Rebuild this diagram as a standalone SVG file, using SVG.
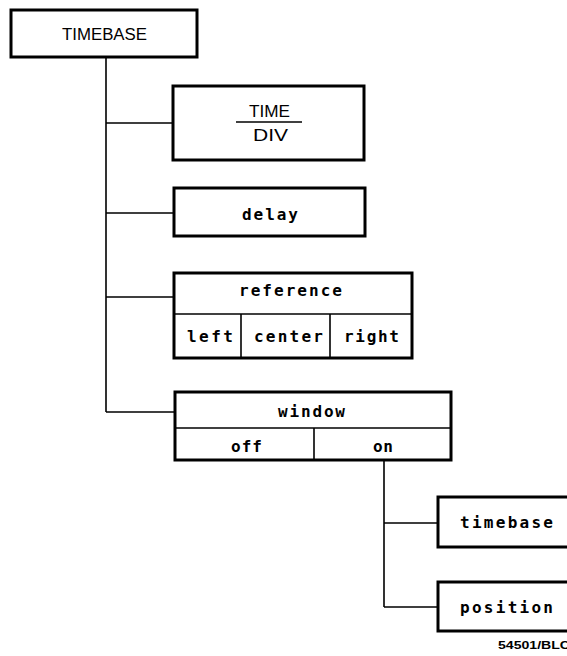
<svg xmlns="http://www.w3.org/2000/svg" width="567" height="656" viewBox="0 0 567 656">
<style>
.box{fill:#fff;stroke:#000;stroke-width:3}
.div{stroke:#000;stroke-width:1.6;fill:none}
.con{stroke:#000;stroke-width:1.6;fill:none}
.up{font-family:"Liberation Sans",Arial,sans-serif;font-size:16px;fill:#000}
.lo{font-family:"DejaVu Sans Mono","Liberation Mono",monospace;font-size:16px;font-weight:bold;fill:#000}
.tag{font-family:"Liberation Sans",Arial,sans-serif;font-size:10px;font-weight:bold;fill:#000}
</style>
<rect width="567" height="656" fill="#fff"/>
<g id="connectors">
<path class="con" d="M106,57 V412 M106,123 H173 M106,213 H174 M106,297 H174 M106,412 H175"/>
<path class="con" d="M384,460 V607 M384,523 H438 M384,607 H438"/>
</g>
<g id="timebase-root">
<rect class="box" x="11" y="10" width="186" height="47"/>
<text class="up" x="62" y="40" textLength="85" lengthAdjust="spacingAndGlyphs">TIMEBASE</text>
</g>
<g id="timediv">
<rect class="box" x="173" y="86" width="191" height="74"/>
<text class="up" x="249" y="117" textLength="41" lengthAdjust="spacingAndGlyphs">TIME</text>
<line class="div" x1="236" y1="122" x2="302" y2="122" stroke-width="1.2"/>
<text class="up" x="253" y="141" textLength="35" lengthAdjust="spacingAndGlyphs">DIV</text>
</g>
<g id="delay">
<rect class="box" x="174" y="188" width="191" height="48"/>
<text class="lo" x="242" y="220" textLength="56" lengthAdjust="spacing">delay</text>
</g>
<g id="reference">
<rect class="box" x="174" y="273" width="238" height="85"/>
<line class="div" x1="174" y1="314" x2="412" y2="314"/>
<line class="div" x1="241" y1="314" x2="241" y2="358"/>
<line class="div" x1="330" y1="314" x2="330" y2="358"/>
<text class="lo" x="239" y="296" textLength="103" lengthAdjust="spacing">reference</text>
<text class="lo" x="187" y="342" textLength="46" lengthAdjust="spacing">left</text>
<text class="lo" x="254" y="342" textLength="69" lengthAdjust="spacing">center</text>
<text class="lo" x="344" y="342" textLength="55" lengthAdjust="spacing">right</text>
</g>
<g id="window">
<rect class="box" x="175" y="392" width="276" height="68"/>
<line class="div" x1="175" y1="428" x2="451" y2="428"/>
<line class="div" x1="314" y1="428" x2="314" y2="460"/>
<text class="lo" x="278" y="417" textLength="67" lengthAdjust="spacing">window</text>
<text class="lo" x="231" y="452" textLength="31" lengthAdjust="spacing">off</text>
<text class="lo" x="373" y="452" textLength="20" lengthAdjust="spacing">on</text>
</g>
<g id="timebase">
<rect class="box" x="438" y="497" width="140" height="50"/>
<text class="lo" x="460" y="528" textLength="93" lengthAdjust="spacing">timebase</text>
</g>
<g id="position">
<rect class="box" x="438" y="582" width="140" height="49"/>
<text class="lo" x="460" y="613" textLength="93" lengthAdjust="spacing">position</text>
</g>
<text class="tag" x="498" y="649" textLength="72" lengthAdjust="spacingAndGlyphs">54501/BLC</text>
</svg>
